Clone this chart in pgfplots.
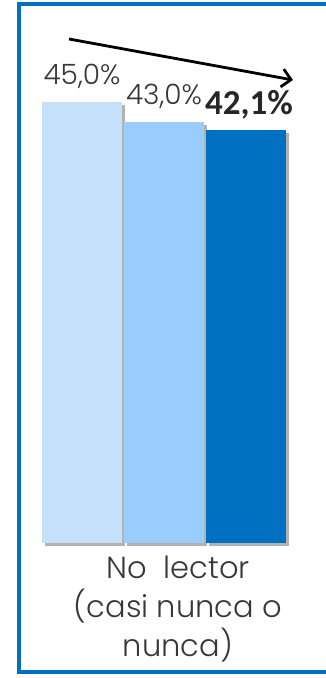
\documentclass[border=0pt]{standalone}
\usepackage{pgfplots}
\pgfplotsset{compat=1.18}
\usepackage{fontspec}
\setmainfont{Poppins}[UprightFont=* Light, BoldFont=* SemiBold]
\newfontfamily\carlito{Carlito}
\usetikzlibrary{arrows.meta,shadows}
\definecolor{c1}{HTML}{C5E0FB}
\definecolor{c2}{HTML}{99CCFF}
\definecolor{c3}{HTML}{0070C0}
\definecolor{txt}{HTML}{383838}
\begin{document}
\begin{tikzpicture}[x=1pt,y=1pt]
\useasboundingbox (0,0) rectangle (326,678);
\begin{axis}[
  at={(19pt,135pt)}, anchor=south west,
  scale only axis, width=290pt, height=500pt,
  xmin=-1, xmax=1, ymin=0, ymax=51.0204,
  ybar=2pt, bar width=80pt,
  axis line style={draw=none},
  ytick=\empty, xtick={0}, major tick length=0pt,
  xticklabels={{No\ \ lector\\(casi nunca o\\nunca)}},
  xticklabel style={align=center, inner sep=0pt, yshift=-13pt, xshift=14pt,
    font=\fontsize{30.5}{39}\selectfont, text=txt},
  clip=false,
  nodes near coords, point meta=explicit symbolic,
  every node near coord/.append style={anchor=base, yshift=17pt, inner sep=0pt,
    font=\fontsize{28}{32}\selectfont, text=txt},
]
\addplot[fill=c1, draw=none, drop shadow={shadow xshift=3pt, shadow yshift=-3pt, opacity=0.3, fill=black}] coordinates {(0,45.0) [45,0\%]};
\addplot[fill=c2, draw=none, drop shadow={shadow xshift=3pt, shadow yshift=-3pt, opacity=0.3, fill=black}] coordinates {(0,43.0) [43,0\%]};
\addplot[fill=c3, draw=none, drop shadow={shadow xshift=3pt, shadow yshift=-3pt, opacity=0.3, fill=black},
  every node near coord/.append style={font=\carlito\bfseries\fontsize{35}{38}\selectfont, text=black!85, yshift=-1pt, xshift=3pt}] coordinates {(0,42.1) [42,1\%]};
\end{axis}
\draw[line width=2.8pt, -{Straight Barb[length=9pt, width=18pt]}] (69,639) -- (293,598);
\draw[line width=4pt, c3] (340,673.5) -- (18.7,673.5) -- (18.7,5.5) -- (340,5.5);
\end{tikzpicture}
\end{document}
